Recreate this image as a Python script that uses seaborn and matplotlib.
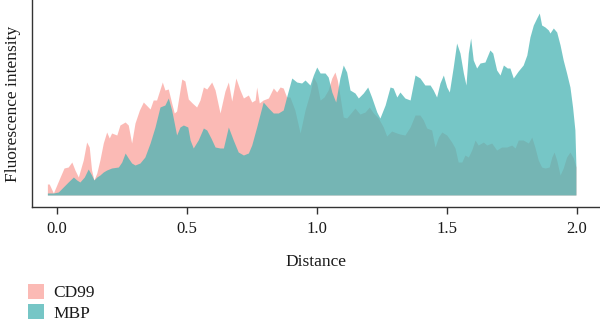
import numpy as np
import pandas as pd
import matplotlib
matplotlib.use("Agg")
import matplotlib.pyplot as plt
from matplotlib.patches import Patch
import seaborn as sns

# ---------------- data ----------------
series_names = ["CD99", "MBP"]

cd99_distance = [-0.037, -0.030, -0.014, 0.012, 0.027, 0.043, 0.057, 0.069, 0.082, 0.101,
                 0.114, 0.124, 0.133, 0.142, 0.153, 0.165, 0.178, 0.191, 0.201, 0.210,
                 0.230, 0.242, 0.262, 0.274, 0.287, 0.300, 0.317, 0.332, 0.358, 0.370,
                 0.383, 0.405, 0.415, 0.428, 0.441, 0.451, 0.460, 0.480, 0.492, 0.505,
                 0.520, 0.537, 0.550, 0.563, 0.576, 0.595, 0.608, 0.627, 0.646, 0.659,
                 0.672, 0.688, 0.704, 0.717, 0.736, 0.749, 0.762, 0.768, 0.778, 0.793,
                 0.813, 0.832, 0.845, 0.858, 0.870, 0.883, 0.896, 0.915, 0.935, 0.954,
                 0.973, 0.986, 0.999, 1.012, 1.027, 1.043, 1.057, 1.069, 1.078, 1.088,
                 1.101, 1.114, 1.127, 1.146, 1.165, 1.185, 1.201, 1.217, 1.236, 1.255,
                 1.268, 1.287, 1.307, 1.319, 1.338, 1.358, 1.377, 1.396, 1.409, 1.422,
                 1.441, 1.454, 1.467, 1.480, 1.499, 1.518, 1.531, 1.543, 1.557, 1.569,
                 1.582, 1.595, 1.608, 1.620, 1.640, 1.653, 1.672, 1.691, 1.710, 1.730,
                 1.749, 1.762, 1.774, 1.793, 1.813, 1.826, 1.838, 1.851, 1.864, 1.877,
                 1.893, 1.903, 1.912, 1.922, 1.935, 1.947, 1.960, 1.973, 1.986, 1.996]
cd99_intensity = [11, 11, 2, 18, 27, 28, 33, 25, 18, 35,
                  53, 48, 25, 15, 22, 35, 52, 63, 57, 62,
                  60, 70, 73, 70, 52, 72, 85, 93, 86, 95,
                  95, 113, 105, 106, 92, 82, 84, 116, 114, 96,
                  92, 88, 95, 108, 106, 113, 105, 82, 104, 113,
                  94, 117, 105, 97, 100, 93, 95, 108, 92, 95,
                  97, 107, 103, 108, 107, 98, 98, 85, 62, 85,
                  102, 118, 112, 95, 98, 105, 117, 123, 115, 100,
                  78, 77, 81, 87, 81, 83, 88, 82, 77, 68,
                  59, 64, 62, 61, 60, 68, 80, 80, 75, 67,
                  65, 48, 58, 63, 60, 53, 47, 33, 33, 40,
                  38, 45, 55, 50, 53, 50, 52, 45, 48, 48,
                  50, 47, 55, 55, 52, 58, 48, 35, 28, 27,
                  28, 38, 43, 35, 20, 27, 38, 43, 37, 28]

mbp_distance = [-0.037, -0.014, 0.005, 0.024, 0.043, 0.063, 0.076, 0.088, 0.105, 0.120,
                0.133, 0.142, 0.153, 0.165, 0.178, 0.191, 0.210, 0.236, 0.249, 0.262,
                0.274, 0.287, 0.300, 0.319, 0.338, 0.358, 0.377, 0.396, 0.415, 0.428,
                0.441, 0.451, 0.460, 0.473, 0.486, 0.503, 0.512, 0.524, 0.543, 0.563,
                0.576, 0.592, 0.608, 0.627, 0.640, 0.659, 0.678, 0.697, 0.717, 0.736,
                0.749, 0.768, 0.793, 0.813, 0.832, 0.851, 0.870, 0.883, 0.903, 0.922,
                0.941, 0.954, 0.973, 0.986, 0.999, 1.012, 1.031, 1.043, 1.057, 1.072,
                1.088, 1.101, 1.114, 1.127, 1.146, 1.159, 1.178, 1.195, 1.210, 1.230,
                1.242, 1.262, 1.281, 1.293, 1.307, 1.319, 1.338, 1.358, 1.377, 1.396,
                1.415, 1.435, 1.447, 1.460, 1.473, 1.486, 1.499, 1.509, 1.524, 1.537,
                1.550, 1.563, 1.573, 1.582, 1.591, 1.601, 1.614, 1.627, 1.646, 1.665,
                1.676, 1.691, 1.704, 1.717, 1.732, 1.742, 1.755, 1.774, 1.793, 1.807,
                1.819, 1.832, 1.845, 1.855, 1.864, 1.877, 1.890, 1.896, 1.909, 1.922,
                1.935, 1.947, 1.960, 1.973, 1.983, 1.992, 1.996]
mbp_intensity = [2, 2, 3, 8, 13, 18, 15, 13, 18, 26,
                 20, 15, 18, 20, 23, 25, 27, 28, 33, 42,
                 37, 32, 30, 32, 38, 52, 68, 88, 90, 97,
                 85, 72, 60, 68, 70, 68, 55, 47, 55, 67,
                 65, 57, 48, 47, 47, 68, 55, 43, 40, 42,
                 50, 68, 93, 87, 82, 82, 85, 98, 117, 113,
                 112, 115, 110, 120, 128, 122, 122, 118, 103, 93,
                 117, 130, 123, 105, 102, 97, 102, 108, 98, 83,
                 77, 90, 108, 107, 98, 103, 97, 95, 120, 117,
                 110, 110, 105, 98, 112, 120, 108, 103, 128, 152,
                 142, 122, 110, 142, 157, 135, 127, 132, 133, 145,
                 142, 125, 120, 130, 127, 127, 117, 124, 130, 140,
                 158, 170, 177, 182, 170, 168, 165, 162, 167, 163,
                 150, 135, 122, 108, 88, 65, 28]

x_ticks = [0.0, 0.5, 1.0, 1.5, 2.0]
x_tick_labels = ["0.0", "0.5", "1.0", "1.5", "2.0"]
x_label = "Distance"
y_label = "Fluorescence intensity"

# ---------------- styling ----------------
sns.set_theme(style="white")
plt.rcParams["font.family"] = ["Liberation Serif", "DejaVu Serif"]
plt.rcParams["font.size"] = 12

cd99_color = "#F8766D"
mbp_color = "#48B4B4"
palette = dict(zip(series_names, [cd99_color, mbp_color]))
alphas = {"CD99": 0.5, "MBP": 0.75}

df = pd.concat([
    pd.DataFrame({"distance": cd99_distance, "intensity": cd99_intensity, "marker": "CD99"}),
    pd.DataFrame({"distance": mbp_distance, "intensity": mbp_intensity, "marker": "MBP"}),
], ignore_index=True)

fig = plt.figure(figsize=(6.0, 3.24), dpi=100)
ax = fig.add_axes([32 / 600, 1 - 207 / 324, 1 - 32 / 600, 207 / 324])

# seaborn draws the (invisible-edged) profiles; areas are filled from the same data
sns.lineplot(data=df, x="distance", y="intensity", hue="marker", palette=palette,
             linewidth=0, legend=False, ax=ax, estimator=None, sort=True)
for name in series_names:
    sub = df[df["marker"] == name].sort_values("distance")
    ax.fill_between(sub["distance"], 0, sub["intensity"], color=palette[name],
                    alpha=alphas[name], linewidth=0)

ax.set_xlim(-0.0962, 2.0885)
ax.set_ylim(-12, 195)
ax.set_xticks(x_ticks)
ax.set_xticklabels(x_tick_labels)
ax.set_yticks([])
ax.set_xlabel(x_label, fontsize=12.5, labelpad=12, color="#1a1a1a")
ax.set_ylabel(y_label, fontsize=12.5, labelpad=8, color="#1a1a1a")

for side in ["top", "right"]:
    ax.spines[side].set_visible(False)
for side in ["left", "bottom"]:
    ax.spines[side].set_color("#333333")
    ax.spines[side].set_linewidth(1.0)
ax.tick_params(axis="x", which="both", bottom=True, length=5, width=1.0,
               color="#333333", labelsize=12, pad=5, labelcolor="#1a1a1a")

handles = [Patch(facecolor=palette[n], alpha=alphas[n], edgecolor="none", label=n)
           for n in series_names]
fig.legend(handles=handles, loc="upper left", bbox_to_anchor=(0.047, 0.125),
           frameon=False, fontsize=12.5, handlelength=0.9, handleheight=1.0,
           handletextpad=0.55, labelspacing=0.15, borderpad=0, borderaxespad=0,
           labelcolor="#1a1a1a")

fig.savefig("out.png", dpi=100)
